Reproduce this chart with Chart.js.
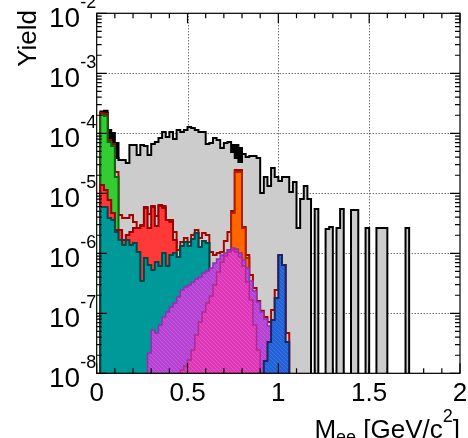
<!DOCTYPE html>
<html><head><meta charset="utf-8">
<script src="https://cdn.jsdelivr.net/npm/chart.js@4/dist/chart.umd.min.js"></script>
<style>html,body{margin:0;padding:0;background:#fff;}canvas{display:block;}</style>
</head><body>
<canvas id="c" width="468" height="438"></canvas>
<script>
// ---- binning (categories) ----
const binLow = 0, binWidth = 0.02, nBins = 100;
const xTickValues = [0, 0.5, 1, 1.5, 2];
const xTickLabels = ['0', '0.5', '1', '1.5', '2'];
const yTickExponents = [-8, -7, -6, -5, -4, -3, -2];
const yTitle = 'Yield';
const xTitleParts = ['M', 'ee', ' [GeV/c', '2', ']'];

// ---- series values (per bin, index = bin number) ----
const blackYield = [0, 2.31e-4, 2.38e-4, 1.13e-4, 1.01e-4, 6.89e-5, 0, 0, 0, 0,
  0, 0, 0, 0, 0, 0, 0, 0, 0, 0,
  0, 0, 0, 0, 0, 0, 0, 0, 0, 0,
  0, 0, 0, 0, 0, 0, 0, 6.38e-5, 6.38e-5, 5.69e-5];
const grayYield = [0, 2.18e-4, 2.18e-4, 7.73e-5, 6.38e-5, 3.88e-5, 3.59e-5, 3.59e-5, 3.2e-5, 6.38e-5,
  6.38e-5, 4.35e-5, 6.38e-5, 6.14e-5, 4.35e-5, 6.63e-5, 7.16e-5, 8.37e-5, 1.05e-4, 8.7e-5,
  1.05e-4, 8.05e-5, 1.13e-4, 1.05e-4, 1.13e-4, 1.27e-4, 1.23e-4, 1.13e-4, 1.05e-4, 1.05e-4,
  6.63e-5, 6.89e-5, 8.37e-5, 7.73e-5, 5.69e-5, 6.89e-5, 7.16e-5, 4.88e-5, 3.88e-5, 3.32e-5,
  4.52e-5, 4.03e-5, 4.19e-5, 4.19e-5, 3.88e-5, 1.01e-5, 1.87e-5, 1.32e-5, 2.64e-5, 1.87e-5,
  1.6e-5, 1.87e-5, 1.87e-5, 1.05e-5, 1.54e-5, 2.64e-6, 8.05e-6, 1.32e-5, 8.05e-6, 0,
  5.47e-6, 0, 0, 2.54e-6, 2.74e-6, 0, 2.64e-6, 5.47e-6, 0, 0,
  5.26e-6, 5.26e-6, 0, 0, 2.64e-6, 0, 0, 2.64e-6, 2.64e-6, 2.64e-6,
  0, 0, 0, 0, 0, 2.64e-6];
const sumLineYield = [0, 2.18e-4, 2.1e-4, 7.73e-5, 6.63e-5, 2.27e-5, 4.35e-6, 3.88e-6, 3.88e-6, 4.35e-6,
  3.32e-6, 2.64e-6, 2.96e-6, 5.92e-6, 4.52e-6, 6.14e-6, 4.19e-6, 6.38e-6, 6.14e-6, 3.59e-6,
  3.59e-6, 2.27e-6, 1.13e-6, 1.54e-6, 1.8e-6, 1.54e-6, 2.02e-6, 2.45e-6, 1.8e-6, 2.18e-6,
  2.02e-6, 1.05e-6, 9.37e-7, 1.01e-6, 1.05e-6, 1.6e-6, 2.27e-6, 5.08e-6, 2.45e-5, 2.45e-5,
  2.74e-6, 9.37e-7, 4.35e-7, 2.64e-7, 1.6e-7, 1.1e-7, 8.7e-8, 7.16e-8, 1.13e-7, 2.45e-7,
  9.37e-7, 6.38e-7, 4.7e-8];
const greenYield = [0, 2.02e-4, 1.94e-4, 7.16e-5, 6.14e-5, 1.87e-5];
const redYield = [0, 1.38e-5, 1.13e-5, 7.73e-6, 4.7e-6, 2.45e-6, 2.45e-6, 1.67e-6, 2.02e-6, 2.27e-6,
  2.64e-6, 2.64e-6, 2.85e-6, 5.69e-6, 2.64e-6, 5.92e-6, 2.85e-6, 6.14e-6, 5.69e-6, 3.59e-6,
  3.32e-6, 1.67e-6, 8.7e-7, 1.32e-6, 1.54e-6, 1.32e-6, 1.73e-6, 2.18e-6, 1.27e-6, 1.6e-6,
  1.49e-6];
const tealYield = [0, 5.92e-6, 5.92e-6, 3.88e-6, 3.59e-6, 2.27e-6, 1.67e-6, 1.38e-6, 1.67e-6, 1.38e-6,
  1.49e-6, 1.05e-6, 3.45e-7, 8.37e-7, 6.38e-7, 5.26e-7, 7.16e-7, 6.14e-7, 1.01e-6, 6.14e-7,
  9.37e-7, 1.01e-6, 8.7e-7, 1.32e-6, 1.54e-6, 1.32e-6, 1.73e-6, 2.18e-6, 1.27e-6, 1.6e-6,
  1.49e-6];
const orangeYield = [0, 0, 0, 0, 0, 0, 0, 0, 0, 0,
  0, 0, 0, 0, 0, 0, 0, 0, 0, 0,
  0, 0, 0, 0, 0, 0, 0, 0, 0, 0,
  0, 0, 0, 0, 0, 0, 1.13e-6, 4.7e-6, 2.27e-5, 2.27e-5,
  2.64e-6, 8.37e-7];
const violetYield = [0, 0, 0, 0, 0, 0, 0, 0, 0, 0,
  0, 0, 0, 0, 2.18e-8, 5.26e-8, 4.7e-8, 6.38e-8, 8.7e-8, 1.05e-7,
  1.27e-7, 1.49e-7, 1.87e-7, 2.45e-7, 2.74e-7, 2.96e-7, 3.32e-7, 3.73e-7, 4.03e-7, 4.7e-7,
  5.08e-7, 5.69e-7, 6.89e-7, 8.05e-7, 9.37e-7, 1.01e-6, 1.13e-6, 1.23e-6, 1.18e-6, 1.01e-6,
  7.73e-7, 5.69e-7, 3.45e-7, 2.35e-7, 1.54e-7, 1.05e-7, 8.05e-8, 6.14e-8, 3.59e-8, 2.02e-8,
  1.54e-8, 1.38e-8, 1.22e-8];
const pinkYield = [0, 0, 0, 0, 0, 0, 0, 0, 0, 0,
  0, 0, 0, 0, 0, 0, 0, 0, 0, 0,
  0, 0, 0, 1.13e-8, 1.32e-8, 1.67e-8, 2.45e-8, 4.35e-8, 7.16e-8, 1.05e-7,
  1.49e-7, 1.94e-7, 2.96e-7, 4.88e-7, 7.16e-7, 9.0e-7, 1.05e-6, 1.13e-6, 1.05e-6, 8.7e-7,
  6.14e-7, 3.32e-7, 1.67e-7, 6.38e-8, 2.45e-8];
const blueYield = [0, 0, 0, 0, 0, 0, 0, 0, 0, 0,
  0, 0, 0, 0, 0, 0, 0, 0, 0, 0,
  0, 0, 0, 0, 0, 0, 0, 0, 0, 0,
  0, 0, 0, 0, 0, 0, 0, 0, 0, 0,
  0, 0, 0, 0, 0, 0, 1.6e-8, 3.32e-8, 7.73e-8, 1.8e-7,
  9.37e-7, 6.38e-7, 3.32e-8];

const FLOOR = 1e-12;
function histPoints(arr) {
  const pts = [];
  for (let i = 0; i < nBins; i++) {
    const v = arr[i] || 0;
    pts.push({ x: binLow + i * binWidth, y: v > 0 ? v : FLOOR });
  }
  pts.push({ x: binLow + nBins * binWidth, y: FLOOR });
  return pts;
}
function makeHatch(base, line) {
  const c = document.createElement('canvas'); c.width = 4; c.height = 4;
  const g = c.getContext('2d');
  g.fillStyle = base; g.fillRect(0, 0, 4, 4);
  g.strokeStyle = line; g.lineWidth = 0.8;
  g.beginPath();
  g.moveTo(-1, -1); g.lineTo(5, 5);
  g.moveTo(-3, 1); g.lineTo(3, 7);
  g.moveTo(1, -3); g.lineTo(7, 3);
  g.stroke();
  return g.createPattern(c, 'repeat');
}
function ds(label, arr, bg, border, order, fill, bw) {
  return { label, data: histPoints(arr), stepped: true, fill: fill ? 'start' : false,
    backgroundColor: bg, borderColor: border, borderWidth: bw, pointRadius: 0,
    pointHoverRadius: 0, order, clip: 0, tension: 0 };
}
const FONT = '"Liberation Sans", Arial, Helvetica, sans-serif';

const rootAxes = {
  id: 'rootAxes',
  beforeDatasetsDraw(chart) {
    const { ctx, chartArea: a, scales: { x, y } } = chart;
    ctx.save();
    ctx.strokeStyle = '#333'; ctx.lineWidth = 1; ctx.setLineDash([1, 2]);
    ctx.beginPath();
    yTickExponents.forEach(e => {
      const v = Math.pow(10, e);
      if (v <= y.min || v >= y.max) return;
      const py = Math.round(y.getPixelForValue(v)) + 0.5;
      ctx.moveTo(a.left, py); ctx.lineTo(a.right, py);
    });
    xTickValues.forEach(v => {
      if (v <= x.min || v >= x.max) return;
      const px = Math.round(x.getPixelForValue(v)) + 0.5;
      ctx.moveTo(px, a.top); ctx.lineTo(px, a.bottom);
    });
    ctx.stroke();
    ctx.restore();
  },
  afterDraw(chart) {
    const { ctx, chartArea: a, scales: { x, y } } = chart;
    ctx.save();
    ctx.setLineDash([]);
    ctx.strokeStyle = '#000'; ctx.lineWidth = 1.2;
    ctx.strokeRect(a.left, a.top, a.right - a.left, a.bottom - a.top);
    ctx.beginPath();
    for (let i = 0; i < yTickExponents.length; i++) {
      const e = yTickExponents[i];
      const py = y.getPixelForValue(Math.pow(10, e));
      ctx.moveTo(a.left, py); ctx.lineTo(a.left + 10, py);
      ctx.moveTo(a.right, py); ctx.lineTo(a.right - 10, py);
      if (i < yTickExponents.length - 1) {
        for (let k = 2; k <= 9; k++) {
          const pm = y.getPixelForValue(k * Math.pow(10, e));
          ctx.moveTo(a.left, pm); ctx.lineTo(a.left + 5, pm);
          ctx.moveTo(a.right, pm); ctx.lineTo(a.right - 5, pm);
        }
      }
    }
    for (let j = 0; j <= 20; j++) {
      const v = j * 0.1;
      const px = x.getPixelForValue(v);
      const len = (j % 5 === 0) ? 10 : 5;
      ctx.moveTo(px, a.bottom); ctx.lineTo(px, a.bottom - len);
      ctx.moveTo(px, a.top); ctx.lineTo(px, a.top + len);
    }
    ctx.stroke();

    ctx.fillStyle = '#000';
    ctx.textBaseline = 'alphabetic';
    yTickExponents.forEach(e => {
      const py = y.getPixelForValue(Math.pow(10, e));
      const sup = String(e);
      ctx.font = '18px ' + FONT;
      const wSup = ctx.measureText(sup).width;
      ctx.font = '28px ' + FONT;
      const w10 = ctx.measureText('10').width;
      const right = a.left - 0.5;
      ctx.textAlign = 'left';
      ctx.fillText('10', right - wSup - w10, py + 13.4);
      ctx.font = '18px ' + FONT;
      ctx.fillText(sup, right - wSup, py - 5);
    });
    ctx.font = '26px ' + FONT;
    ctx.textAlign = 'center';
    xTickValues.forEach((v, i) => {
      ctx.fillText(xTickLabels[i], x.getPixelForValue(v), 401);
    });
    const big = '26px ' + FONT, small = '18px ' + FONT;
    const fonts = [big, small, big, small, big];
    const shifts = [0, 5, 0, -16, 0];
    const widths = xTitleParts.map((t, i) => { ctx.font = fonts[i]; return ctx.measureText(t).width; });
    let cx = a.right - widths.reduce((s, w) => s + w, 0);
    ctx.textAlign = 'left';
    xTitleParts.forEach((t, i) => {
      ctx.font = fonts[i];
      ctx.fillText(t, cx, 437.5 + shifts[i]);
      cx += widths[i];
    });
    ctx.font = '26px ' + FONT;
    ctx.translate(35.5, 10);
    ctx.rotate(-Math.PI / 2);
    ctx.textAlign = 'right';
    ctx.fillText(yTitle, 0, 0);
    ctx.restore();
  }
};

const violetFill = makeHatch('rgb(182,66,212)', 'rgb(198,96,222)');
const pinkFill = makeHatch('rgb(222,54,184)', 'rgb(232,92,198)');
const blueFill = makeHatch('rgb(34,98,214)', 'rgb(58,122,226)');

new Chart(document.getElementById('c'), {
  type: 'line',
  data: {
    datasets: [
      ds('blue', blueYield, blueFill, '#1c2563', 0, true, 2),
      ds('pink', pinkYield, pinkFill, '#b02a92', 1, true, 1.5),
      ds('violet', violetYield, violetFill, '#9030b0', 2, true, 1.5),
      ds('teal', tealYield, '#009999', '#004848', 3, true, 2),
      ds('orange', orangeYield, '#ff6600', '#b02000', 4, true, 2),
      ds('red', redYield, '#ff3838', '#9a0000', 5, true, 2),
      ds('green', greenYield, '#33cc33', '#0d660d', 6, true, 2),
      ds('sum', sumLineYield, 'rgba(0,0,0,0)', '#aa0000', 7, false, 2),
      ds('gray', grayYield, '#cccccc', '#000000', 8, true, 2),
      ds('black', blackYield, '#000000', '#000000', 9, true, 2)
    ]
  },
  options: {
    responsive: false, animation: false, devicePixelRatio: 1, events: [],
    layout: { padding: { left: 96.7, right: 8, top: 13.3, bottom: 64.7 } },
    scales: {
      x: { type: 'linear', min: 0, max: 2, display: false },
      y: { type: 'logarithmic', min: 1e-8, max: 1e-2, display: false }
    },
    plugins: { legend: { display: false }, tooltip: { enabled: false } }
  },
  plugins: [rootAxes]
});
</script>
</body></html>
